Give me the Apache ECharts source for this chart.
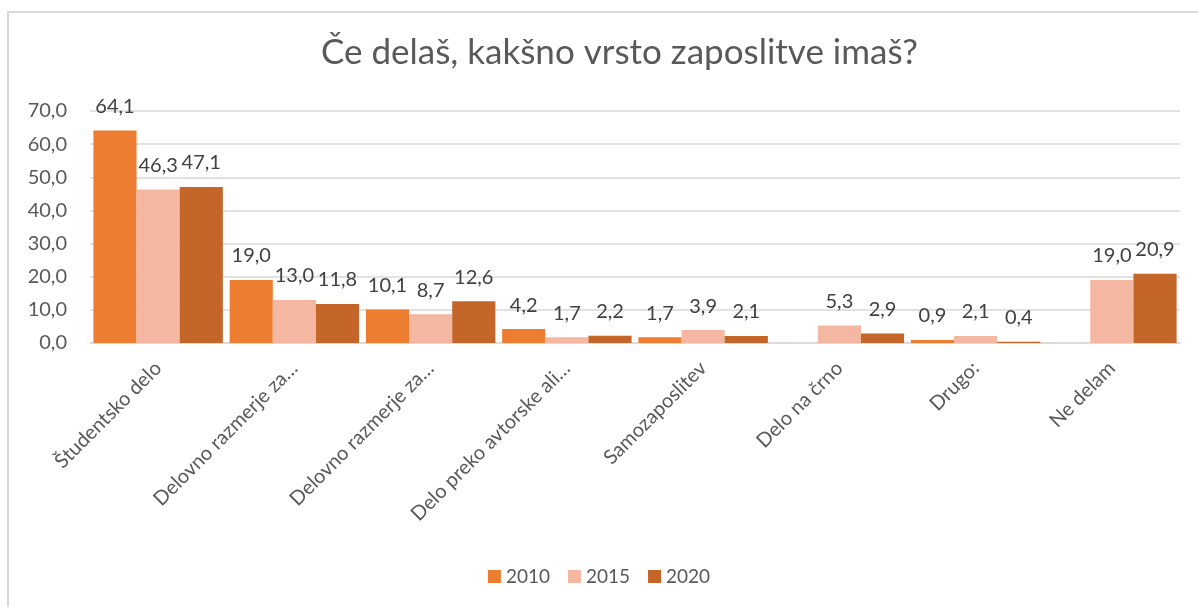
<!DOCTYPE html>
<html>
<head>
<meta charset="utf-8">
<script src="https://cdn.jsdelivr.net/npm/echarts@6/dist/echarts.min.js"></script>
<style>
  html, body { margin: 0; padding: 0; background: #fff; overflow: hidden; }
  .frame {
    position: absolute; left: 7px; top: 11px; width: 1300px; height: 700px;
    border: 2px solid #d9d9d9; box-sizing: border-box;
  }
  #chart { position: absolute; left: 0; top: 0; width: 1198px; height: 607px; }
</style>
</head>
<body>
<div class="frame"></div>
<div id="chart"></div>
<script>
// podatki
var categories = ['Študentsko delo', 'Delovno razmerje za…', 'Delovno razmerje za…', 'Delo preko avtorske ali…', 'Samozaposlitev', 'Delo na črno', 'Drugo:', 'Ne delam']
var years = ['2010', '2015', '2020']
var values2010 = [64.1, 19.0, 10.1, 4.2, 1.7, null, 0.9, null]
var values2015 = [46.3, 13.0, 8.7, 1.7, 3.9, 5.3, 2.1, 19.0]
var values2020 = [47.1, 11.8, 12.6, 2.2, 2.1, 2.9, 0.4, 20.9]
var colors = ['#ED7D31', '#F4B7A1', '#C4652A']

var fontFamily = 'Lato, "Open Sans", sans-serif'
var fmt = function (v) { return v.toFixed(1).replace('.', ',') }

var chart = echarts.init(document.getElementById('chart'))

function makeSeries (name, data, color) {
  return {
    name: name,
    type: 'bar',
    data: data,
    barGap: '0%',
    barCategoryGap: '5%',
    itemStyle: { color: color },
    label: {
      show: true,
      position: 'top',
      distance: 14,
      color: '#404040',
      fontSize: 20,
      fontFamily: fontFamily,
      formatter: function (p) { return p.value == null ? '' : fmt(p.value) }
    }
  }
}

chart.setOption({
  animation: false,
  color: colors,
  title: {
    text: 'Če delaš, kakšno vrsto zaposlitve imaš?',
    left: 316,
    top: 30,
    textStyle: { color: '#595959', fontSize: 35, fontWeight: 'normal', fontFamily: fontFamily }
  },
  grid: { left: 90, right: 18, top: 111, bottom: 264, containLabel: false },
  legend: {
    data: years,
    bottom: 16,
    left: 'center',
    itemWidth: 13,
    itemHeight: 13,
    itemGap: 18,
    icon: 'rect',
    textStyle: { color: '#595959', fontSize: 19, fontFamily: fontFamily }
  },
  xAxis: {
    type: 'category',
    data: categories,
    axisLine: { lineStyle: { color: '#d9d9d9', width: 1.5 } },
    axisTick: { show: false },
    axisLabel: {
      interval: 0,
      rotate: 45,
      margin: 22,
      color: '#595959',
      fontSize: 20,
      fontFamily: fontFamily
    }
  },
  yAxis: {
    type: 'value',
    min: 0,
    max: 70,
    interval: 10,
    axisLine: { show: false },
    axisTick: { show: false },
    splitLine: { lineStyle: { color: '#d9d9d9', width: 1.5 } },
    axisLabel: {
      margin: 23,
      color: '#595959',
      fontSize: 20,
      fontFamily: fontFamily,
      formatter: function (v) { return fmt(v) }
    }
  },
  series: [
    makeSeries(years[0], values2010, colors[0]),
    makeSeries(years[1], values2015, colors[1]),
    makeSeries(years[2], values2020, colors[2])
  ]
})
</script>
</body>
</html>
